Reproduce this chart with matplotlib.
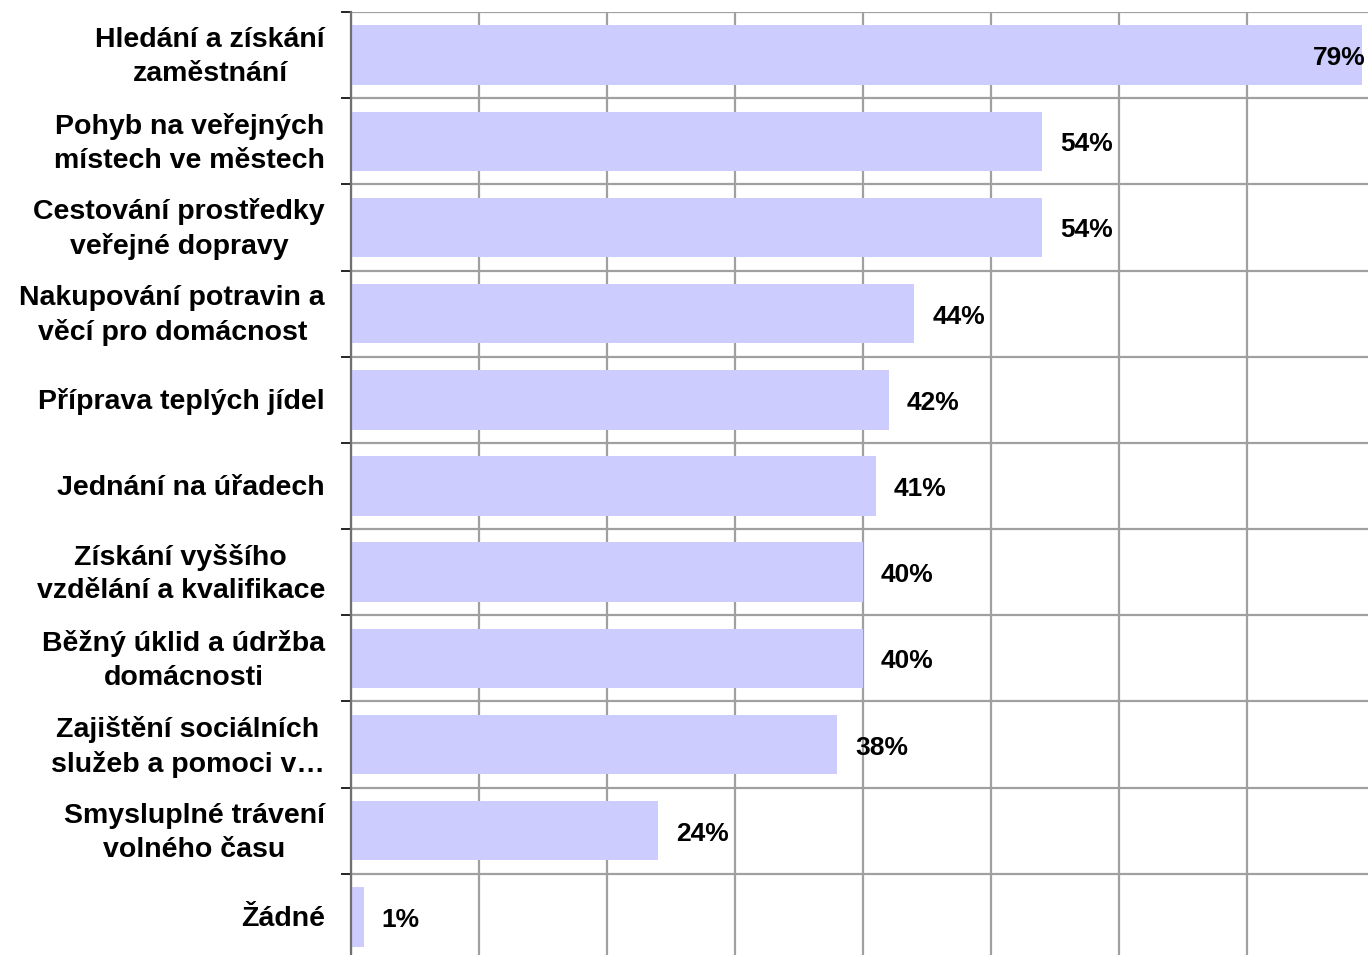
import matplotlib
matplotlib.use("Agg")
import matplotlib.pyplot as plt
import numpy as np

# ------------------------------
CATEGORIES = [
    "Hledání a získání\nzaměstnání",
    "Pohyb na veřejných\nmístech ve městech",
    "Cestování prostředky\nveřejné dopravy",
    "Nakupování potravin a\nvěcí pro domácnost",
    "Příprava teplých jídel",
    "Jednání na úřadech",
    "Získání vyššího\nvzdělání a kvalifikace",
    "Běžný úklid a údržba\ndomácnosti",
    "Zajištění sociálních\nslužeb a pomoci v…",
    "Smysluplné trávení\nvolného času",
    "Žádné",
]
VALUES = [79, 54, 54, 44, 42, 41, 40, 40, 38, 24, 1]
X_MAX = 79.45
BAR_COLOR = "#CCCCFF"
GRID_COLOR = "#A0A0A0"
# ------------------------------

plt.rcParams['font.family'] = ['Liberation Sans', 'DejaVu Sans']

fig = plt.figure(figsize=(13.68, 9.55), dpi=100)
ax = fig.add_axes([351 / 1368, 1 - 960 / 955, 1 - 351 / 1368, (960 - 12) / 955])

y = np.arange(len(CATEGORIES))
bars = ax.barh(y, VALUES, height=0.69, color=BAR_COLOR, zorder=2)

ax.set_xlim(0, X_MAX)
ax.set_ylim(len(CATEGORIES) - 0.5, -0.5)
ax.set_axisbelow(True)

ax.set_xticks(np.arange(0, 80, 10))
ax.xaxis.set_tick_params(length=0, labelbottom=False)
ax.grid(axis='x', color=GRID_COLOR, linewidth=1.6)

ax.set_yticks(y)
ax.set_yticklabels([])
ax.yaxis.set_tick_params(which='major', length=0)
ax.set_yticks(np.arange(-0.5, len(CATEGORIES) + 0.5, 1), minor=True)
ax.yaxis.set_tick_params(which='minor', length=7, width=1.2, color='black', direction='out')
ax.grid(axis='y', which='minor', color=GRID_COLOR, linewidth=1.6)

for side in ['top', 'right', 'bottom']:
    ax.spines[side].set_visible(False)
ax.spines['left'].set_color('#707070')
ax.spines['left'].set_linewidth(1.6)
ax.spines['left'].set_zorder(3)

for yi, label in zip(y, CATEGORIES):
    ax.annotate(label, xy=(0, yi), xycoords='data', xytext=(-26, -2),
                textcoords='offset pixels', ha='right', va='center',
                multialignment='center', fontsize=20.5, fontweight='bold',
                linespacing=1.38)

for bar, val in zip(bars, VALUES):
    yc = bar.get_y() + bar.get_height() / 2
    if val + 5 > X_MAX:
        ax.annotate(f"{val}%", xy=(X_MAX, yc), xytext=(-2, -3), textcoords='offset pixels',
                    ha='right', va='center', fontsize=19, fontweight='bold', zorder=4)
    else:
        ax.annotate(f"{val}%", xy=(val, yc), xytext=(18, -3), textcoords='offset pixels',
                    ha='left', va='center', fontsize=19, fontweight='bold', zorder=4)

fig.savefig("out.png", dpi=100)
